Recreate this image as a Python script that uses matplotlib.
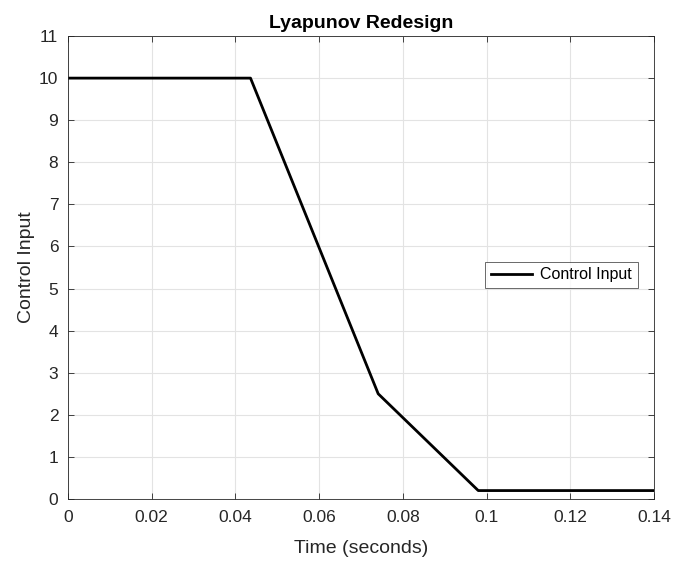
import matplotlib
matplotlib.use("Agg")
import matplotlib.pyplot as plt

plt.rcParams['font.family'] = ['Liberation Sans', 'DejaVu Sans']

time_s = [0.0, 0.0436, 0.0741, 0.0980, 0.14]
control = [10.0, 10.0, 2.5, 0.2, 0.2]
xticks = [0, 0.02, 0.04, 0.06, 0.08, 0.1, 0.12, 0.14]
xticklabels = ['0', '0.02', '0.04', '0.06', '0.08', '0.1', '0.12', '0.14']
yticks = list(range(0, 12))

fig = plt.figure(figsize=(6.75, 5.63), dpi=100)
ax = fig.add_axes([0.1007, 0.1137, 0.8683, 0.8223])
ax.plot(time_s, control, color='black', linewidth=2, label='Control Input')
ax.set_xlim(0, 0.14)
ax.set_ylim(0, 11)
ax.set_xticks(xticks)
ax.set_xticklabels(xticklabels)
ax.set_yticks(yticks)
ax.grid(True, color='#e3e3e3', linewidth=0.8)
ax.set_axisbelow(True)
ax.tick_params(direction='in', length=4, width=0.6, labelsize=12.5, colors='#262626', top=True, right=True, labeltop=False, labelright=False)
ax.tick_params(axis='x', pad=8)
ax.tick_params(axis='y', pad=7)
for s in ax.spines.values():
    s.set_color('#262626')
    s.set_linewidth(0.6)
ax.set_xlabel('Time (seconds)', fontsize=14, color='#262626', labelpad=11)
ax.set_ylabel('Control Input', fontsize=14, color='#262626', labelpad=3)
ax.set_title('Lyapunov Redesign', fontsize=14, fontweight='bold', pad=6)
leg = ax.legend(loc='center right', bbox_to_anchor=(0.972, 0.484), fontsize=11.5, frameon=True, fancybox=False, edgecolor='#262626', handlelength=2.6, handletextpad=0.5, borderpad=0.35, borderaxespad=0)
leg.get_frame().set_linewidth(0.6)
fig.savefig('out.png', dpi=100)
